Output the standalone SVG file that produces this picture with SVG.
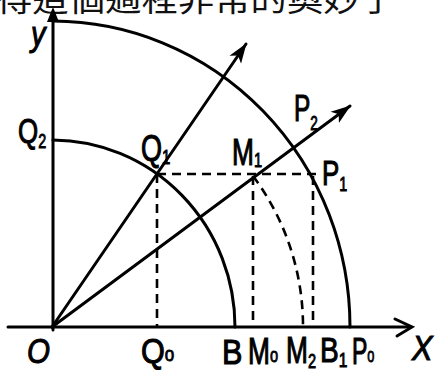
<svg xmlns="http://www.w3.org/2000/svg" width="438" height="372" viewBox="0 0 438 372">
<style>
.cap{font-family:"Noto Sans CJK TC","Noto Sans CJK SC",sans-serif;font-size:33px;fill:#111}
.lbl{font-family:"Liberation Sans",Arial,sans-serif;font-size:36px;fill:#000;stroke:#000;stroke-width:1.1}
.s{font-size:20px;stroke-width:0.9}
.ln{fill:none;stroke:#000;stroke-width:3;stroke-linecap:round}
.dash{fill:none;stroke:#000;stroke-width:2.6;stroke-dasharray:9 6}
</style>
<defs>
<marker id="ah" markerUnits="userSpaceOnUse" markerWidth="22" markerHeight="16" refX="19" refY="8" orient="auto">
<path d="M0,1 L20,8 L0,15 L5,8 Z" fill="#000"/>
</marker>
</defs>
<rect width="438" height="372" fill="#fff"/>
<text class="cap" x="-4" y="11" textLength="400" lengthAdjust="spacingAndGlyphs">得這個過程非常的奧妙了</text>
<g id="axes">
<line class="ln" x1="53" y1="330" x2="53" y2="18"/>
<path d="M47,22 L53,7 L59,22 Z" fill="#000"/>
<line class="ln" x1="8" y1="327" x2="410" y2="327"/>
<polyline class="ln" points="395,319 412,327 397,336"/>
</g>
<g id="arcs">
<path class="ln" d="M53,21 A298,306 0 0 1 350,327"/>
<path class="ln" d="M53,140 A183,187 0 0 1 235,327"/>
<path class="dash" d="M253,176 A251,251 0 0 1 303,327"/>
</g>
<g id="connectors">
<line class="ln" x1="52" y1="327" x2="246" y2="44" marker-end="url(#ah)"/>
<line class="ln" x1="52" y1="327" x2="350" y2="106" marker-end="url(#ah)"/>
<line class="dash" x1="157" y1="174" x2="316" y2="174"/>
<line class="dash" x1="157" y1="174" x2="157" y2="327"/>
<line class="dash" x1="253" y1="176" x2="253" y2="327"/>
<line class="dash" x1="313" y1="176" x2="313" y2="327"/>
</g>
<g id="labels">
<text id="y" class="lbl" transform="translate(31,46) scale(0.8,1)" font-style="italic" font-size="28">y</text>
<text id="Q2" class="lbl" transform="translate(18,143) scale(0.72,1)">Q<tspan class="s" dy="5">2</tspan></text>
<text id="Q1" class="lbl" transform="translate(141,161) scale(0.75,1)">Q<tspan class="s" dy="3">1</tspan></text>
<text id="M1" class="lbl" transform="translate(232,165) scale(0.73,1)">M<tspan class="s" dy="2">1</tspan></text>
<text id="P1" class="lbl" transform="translate(322,185) scale(0.72,1)">P<tspan class="s" dy="6">1</tspan></text>
<text id="P2" class="lbl" transform="translate(294,121) scale(0.68,1)">P<tspan class="s" dy="9">2</tspan></text>
<text id="O" class="lbl" transform="translate(27,363) scale(0.82,1)" font-style="italic">O</text>
<text id="Q0" class="lbl" transform="translate(141,363) scale(0.85,1)">Q<tspan class="s" dy="-2">o</tspan></text>
<text id="B" class="lbl" transform="translate(222,364) scale(0.85,1)">B</text>
<text id="M0" class="lbl" transform="translate(248,364) scale(0.73,1)">M<tspan class="s" dy="-2">o</tspan></text>
<text id="M2" class="lbl" transform="translate(286,363) scale(0.73,1)">M<tspan class="s" dy="5">2</tspan></text>
<text id="B1" class="lbl" transform="translate(320,362) scale(0.78,1)">B<tspan class="s" font-size="17" dy="5">1</tspan></text>
<text id="P0" class="lbl" transform="translate(352,364) scale(0.64,1)">P<tspan class="s" dy="-2">o</tspan></text>
<text id="X" class="lbl" transform="translate(412,360) scale(0.85,1)" font-style="italic">X</text>
</g>
</svg>
